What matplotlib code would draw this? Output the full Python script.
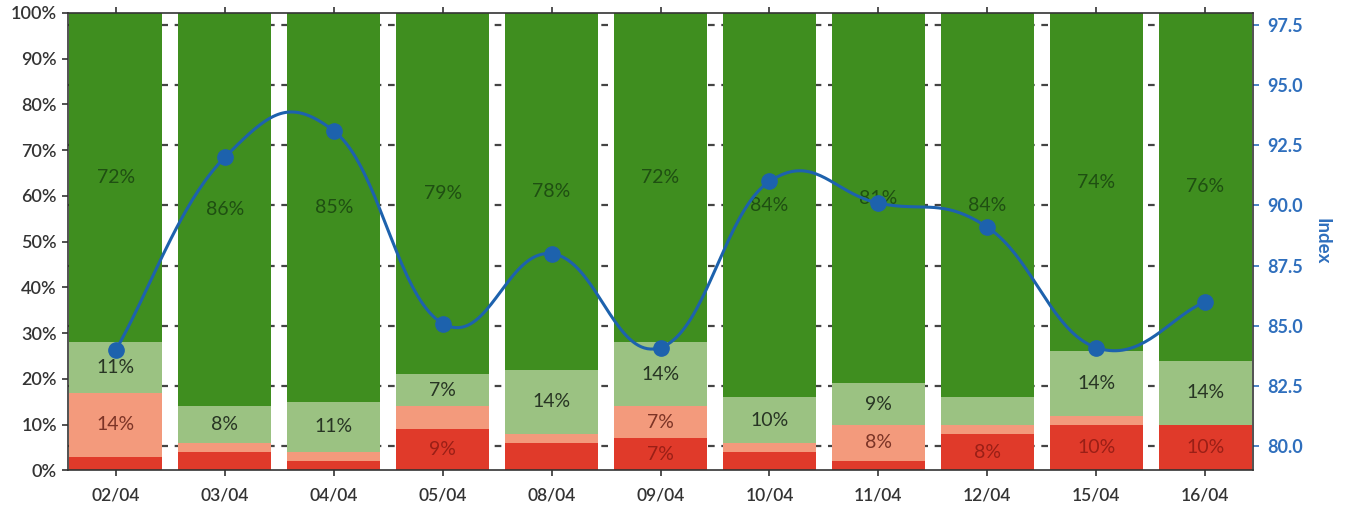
import numpy as np
import matplotlib
matplotlib.use("Agg")
import matplotlib.pyplot as plt
from matplotlib.ticker import FuncFormatter

# ---- data -------------------------------------------------------------
dates = ["02/04", "03/04", "04/04", "05/04", "08/04", "09/04",
         "10/04", "11/04", "12/04", "15/04", "16/04"]

very_negative = [3, 4, 2, 9, 6, 7, 4, 2, 8, 10, 10]      # dark red
negative      = [14, 2, 2, 5, 2, 7, 2, 8, 2, 2, 0]       # salmon
neutral       = [11, 8, 11, 7, 14, 14, 10, 9, 6, 14, 14]  # light green
positive      = [72, 86, 85, 79, 78, 72, 84, 81, 84, 74, 76]  # dark green

index_values = [84.0, 92.0, 93.1, 85.1, 88.0, 84.1, 91.0, 90.1, 89.1, 84.1, 86.0]

pct_ticks = list(range(0, 101, 10))
index_ticks = [80.0, 82.5, 85.0, 87.5, 90.0, 92.5, 95.0, 97.5]

# ---- style -------------------------------------------------------------
plt.rcParams["font.family"] = ["Lato", "DejaVu Sans"]

seg_colors = ["#e03a2a", "#f39a7c", "#9bc282", "#3f8e1f"]
txt_colors = ["#9a1f16", "#7c3426", "#283524", "#1f4f12"]
line_color = "#1d62ad"
axis_blue = "#2f6fbd"
tick_grey = "#333333"

fig = plt.figure(figsize=(13.46, 5.13), dpi=100)
fig.patch.set_facecolor("white")
rect = [0.0505, 0.083, 0.8805, 0.892]

ax_grid = fig.add_axes(rect)
ax = fig.add_axes(rect, sharex=ax_grid)
ax_line = fig.add_axes(rect, sharex=ax_grid)
ax_grid.set_zorder(0)
ax.set_zorder(1)
ax_line.set_zorder(2)
ax.patch.set_visible(False)
ax_line.patch.set_visible(False)

x = np.arange(len(dates))
width = 0.855
series = [very_negative, negative, neutral, positive]

# stacked bars
bottom = np.zeros(len(dates))
for vals, col, tcol in zip(series, seg_colors, txt_colors):
    vals = np.asarray(vals, dtype=float)
    ax.bar(x, vals, width, bottom=bottom, color=col, edgecolor="none")
    for xi, b, v in zip(x, bottom, vals):
        if v >= 7:
            ax.text(xi, b + v / 2, f"{v:.0f}%", ha="center", va="center",
                    fontsize=14, color=tcol)
    bottom += vals

ax.set_xlim(-0.44, len(dates) - 0.56)
ax.set_ylim(0, 100)
ax.set_yticks(pct_ticks)
ax.yaxis.set_major_formatter(FuncFormatter(lambda v, p: f"{v:.0f}%"))
ax.set_xticks(x)
ax.set_xticklabels(dates)
ax.tick_params(axis="y", labelsize=13, colors=tick_grey, length=4, width=1.2,
               direction="out", pad=4)
ax.tick_params(axis="x", labelsize=12.5, colors=tick_grey, length=4, width=1.2,
               direction="out", top=True, pad=8)
for lab in ax.get_yticklabels() + ax.get_xticklabels():
    lab.set_fontweight("semibold")
for s in ["left", "bottom", "top"]:
    ax.spines[s].set_color("#333333")
    ax.spines[s].set_linewidth(1.2)
ax.spines["right"].set_visible(False)

# dashed guide lines behind the bars, on the index scale
ylim_idx = (79.0, 98.0)
ax_grid.set_ylim(*ylim_idx)
ax_grid.set_yticks(index_ticks)
ax_grid.grid(axis="y", color="#444444", linewidth=1.6, linestyle=(0, (3, 3)))
ax_grid.tick_params(left=False, labelleft=False, bottom=False, labelbottom=False)
for s in ax_grid.spines.values():
    s.set_visible(False)

# smoothed index line (cardinal spline through the daily values)
def cardinal_spline(xs, ys, tension=1.25, steps=40):
    pts = np.column_stack([xs, ys]).astype(float)
    ext = np.vstack([2 * pts[0] - pts[1], pts, 2 * pts[-1] - pts[-2]])
    out = []
    t = np.linspace(0, 1, steps)[:, None]
    for i in range(1, len(ext) - 2):
        p0, p1, p2, p3 = ext[i - 1], ext[i], ext[i + 1], ext[i + 2]
        m1 = tension * (p2 - p0) / 2
        m2 = tension * (p3 - p1) / 2
        if i == 1:
            m1 = (p2 - p1)
        if i == len(ext) - 3:
            m2 = (p2 - p1)
        h00 = 2 * t**3 - 3 * t**2 + 1
        h10 = t**3 - 2 * t**2 + t
        h01 = -2 * t**3 + 3 * t**2
        h11 = t**3 - t**2
        out.append(h00 * p1 + h10 * m1 + h01 * p2 + h11 * m2)
    return np.vstack(out)

curve = cardinal_spline(x, index_values)
ax_line.plot(curve[:, 0], curve[:, 1], color=line_color, linewidth=2.2,
             solid_capstyle="round")
ax_line.plot(x, index_values, "o", color=line_color, markersize=11)
ax_line.set_ylim(*ylim_idx)
ax_line.yaxis.tick_right()
ax_line.yaxis.set_label_position("right")
ax_line.set_yticks(index_ticks)
ax_line.yaxis.set_major_formatter(FuncFormatter(lambda v, p: f"{v:.1f}"))
ax_line.tick_params(axis="y", labelsize=13, colors=axis_blue, length=4, width=1.2,
                    direction="out", pad=6)
for lab in ax_line.get_yticklabels():
    lab.set_fontweight("bold")
ax_line.tick_params(axis="x", bottom=False, labelbottom=False)
ax_line.set_ylabel("Index", color=axis_blue, fontsize=13.5, fontweight="bold",
                   rotation=270, labelpad=20)
for s in ["left", "bottom", "top"]:
    ax_line.spines[s].set_visible(False)
ax_line.spines["right"].set_color("#333333")
ax_line.spines["right"].set_linewidth(1.2)

fig.savefig("out.png", dpi=100, facecolor="white")
